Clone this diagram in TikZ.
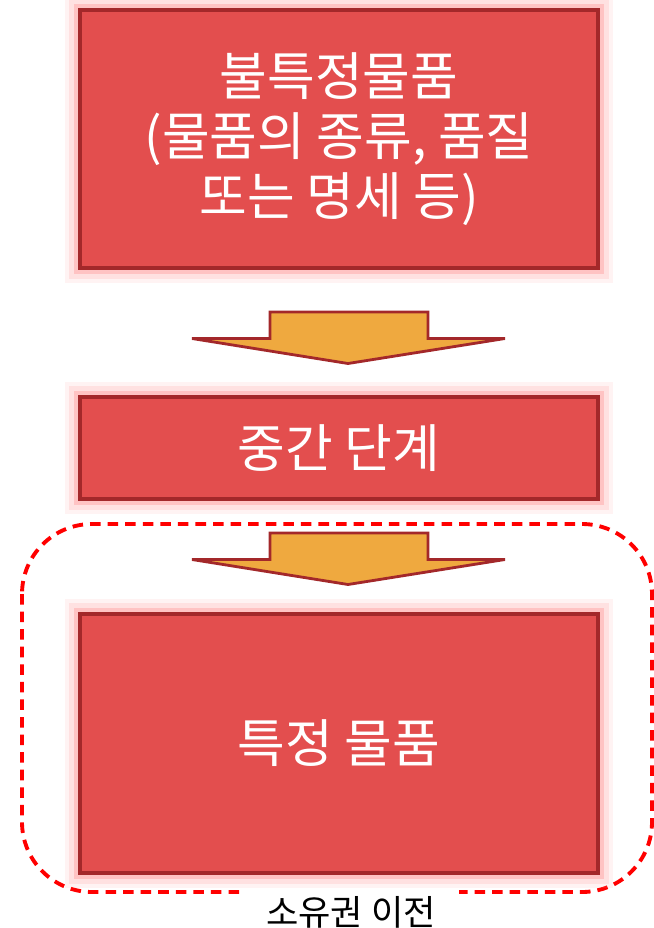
\documentclass[tikz,border=0pt]{standalone}
\usepackage{fontspec}
\setmainfont{Noto Sans CJK KR}
\usetikzlibrary{positioning,calc}
\definecolor{boxfill}{HTML}{E34E4E}
\definecolor{boxline}{HTML}{A3282A}
\definecolor{arrowfill}{HTML}{EFA93F}

\begin{document}
\begin{tikzpicture}[on grid,node distance=6.18cm,
  item/.style={draw=boxline,line width=2pt,fill=boxfill,text=white,
    minimum width=10.36cm,align=center,font=\fontsize{29.5}{34}\selectfont,
    preaction={draw=red!40,line width=17pt,opacity=.12},
    preaction={draw=red!40,line width=12pt,opacity=.2},
    preaction={draw=red!45,line width=7pt,opacity=.35}},
  flow/.style={draw=boxline,line width=1.6pt,fill=arrowfill,line join=miter}]
  \useasboundingbox (0,0) rectangle (13.08,-18.56);
  % transfer region
  \draw[red,line width=2.2pt,dash pattern=on 6pt off 4pt,rounded corners=1.4cm]
    (0.44,-10.48) rectangle (13.04,-17.84);
  \node[fill=white,minimum width=4.32cm,minimum height=0.9cm,
    font=\fontsize{20}{22}\selectfont] (transfer) at (7.02,-18.24) {소유권 이전};
  % boxes
  \node[item,minimum height=5.16cm] (goods) at (6.78,-2.78)
    {불특정물품\\(물품의 종류, 품질\\또는 명세 등)};
  \node[item,minimum height=2.04cm] (middle) [below=of goods] {중간 단계};
  \node[item,minimum height=5.18cm] (specific) [below=5.91cm of middle] {특정 물품};
  % block arrows
  \foreach \y in {-6.24,-10.66}
    \draw[flow] (5.40,\y) -- (8.56,\y) -- (8.56,{\y-0.53}) -- (10.10,{\y-0.53})
      -- (6.96,{\y-1.03}) -- (3.84,{\y-0.53}) -- (5.40,{\y-0.53}) -- cycle;
\end{tikzpicture}
\end{document}
